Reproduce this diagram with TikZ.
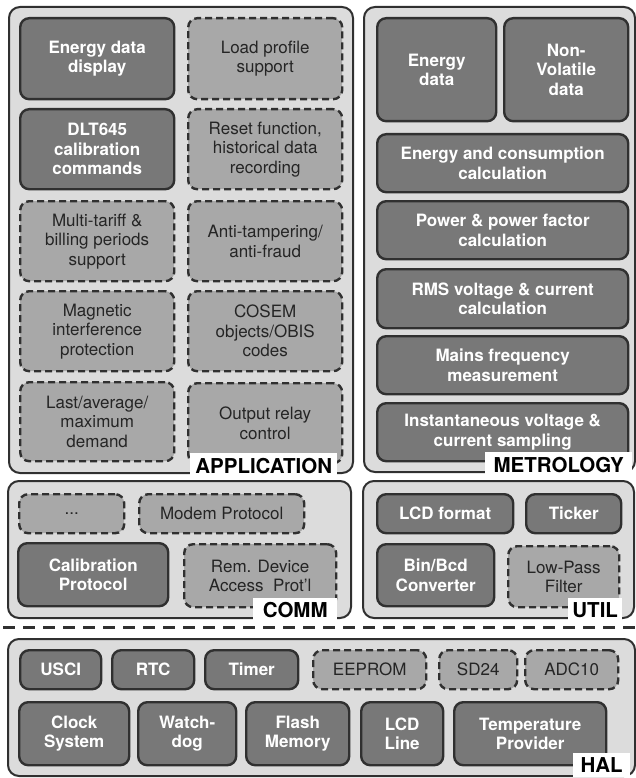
\documentclass[tikz,border=0pt]{standalone}
\usepackage{fontspec}
\setmainfont{TeX Gyre Heros}
\usepackage{xcolor}
\usepackage{tikz}
\usetikzlibrary{positioning}

\definecolor{layerfill}{HTML}{DCDCDC}
\definecolor{boxdark}{HTML}{787878}
\definecolor{boxlight}{HTML}{A8A8A8}
\definecolor{edge}{HTML}{303030}
\definecolor{dashtext}{HTML}{252525}

\begin{document}
\begin{tikzpicture}[
            x=1pt, y=-1pt,
            layer/.style={rectangle, rounded corners=11pt, draw=edge, line width=2pt, fill=layerfill, anchor=north west, inner sep=0pt},
            solidbox/.style={rectangle, rounded corners=9pt, draw=edge, line width=2.4pt, fill=boxdark, text=white, align=center, anchor=north west, inner sep=2pt, font=\fontsize{17}{19.5}\selectfont\bfseries},
            dashbox/.style={solidbox, fill=boxlight, text=dashtext, dash pattern=on 7pt off 4pt, font=\fontsize{17}{19.5}\selectfont},
            boxsize/.style 2 args={minimum width=#1pt, minimum height=#2pt},
            layername/.style={rectangle, fill=white, text=black, anchor=north west, inner sep=0pt, font=\fontsize{20.5}{22}\selectfont\bfseries},
            separator/.style={draw=edge, line width=3pt, dash pattern=on 12pt off 8pt}
        ]
        \useasboundingbox (0,0) rectangle (635,778);

        % layers
        \node[layer, boxsize={344}{466}] (application) at (8,6) {};
        \node[layer, boxsize={271}{465}] (metrology) at (363,6) {};
        \node[layer, boxsize={343}{137}] (comm) at (7,480) {};
        \node[layer, boxsize={271}{137}] (util) at (362,480) {};
        \node[layer, boxsize={627}{137}] (hal) at (7,638) {};

        % application
        \node[solidbox, boxsize={154}{81}] (edd) at (19,17) {Energy data\\display};
        \node[dashbox, boxsize={154}{81}] (lps) at (187,17) {Load profile\\support};
        \node[solidbox, boxsize={154}{80}] (dlt) at (19,108) {DLT645\\calibration\\commands};
        \node[dashbox, boxsize={154}{80}] (rst) at (187,108) {Reset function,\\historical data\\recording};
        \node[dashbox, boxsize={154}{80}] (mtb) at (19,200) {Multi-tariff \&\\billing periods\\support};
        \node[dashbox, boxsize={154}{80}] (atf) at (187,200) {Anti-tampering/\\anti-fraud};
        \node[dashbox, boxsize={154}{80}] (mag) at (19,290) {Magnetic\\interference\\protection};
        \node[dashbox, boxsize={154}{80}] (cos) at (187,290) {COSEM\\objects/OBIS\\codes};
        \node[dashbox, boxsize={154}{79}] (lam) at (19,381) {Last/average/\\maximum\\demand};
        \node[dashbox, boxsize={154}{80}] (orc) at (187,382) {Output relay\\control};

        % metrology
        \node[solidbox, boxsize={119}{103}] (end) at (376,17) {Energy\\data};
        \node[solidbox, boxsize={124}{103}] (nvd) at (503,17) {Non-\\Volatile\\data};
        \node[solidbox, boxsize={251}{58}] (ecc) at (376,133) {Energy and consumption\\calculation};
        \node[solidbox, boxsize={251}{58}] (ppf) at (376,200) {Power \& power factor\\calculation};
        \node[solidbox, boxsize={251}{59}] (rms) at (376,268) {RMS voltage \& current\\calculation};
        \node[solidbox, boxsize={251}{58}] (mfm) at (376,335) {Mains frequency\\measurement};
        \node[solidbox, boxsize={251}{58}] (ivs) at (376,402) {Instantaneous voltage \&\\current sampling};

        % comm
        \node[dashbox, boxsize={105}{39}] (dots) at (18,493) {...};
        \node[dashbox, boxsize={165}{39}] (mdm) at (138,493) {Modem Protocol};
        \node[solidbox, boxsize={150}{63}] (cal) at (17,542) {Calibration\\Protocol};
        \node[dashbox, boxsize={152}{63}] (rda) at (183,543) {Rem. Device\\Access\ \ Prot'l};

        % util
        \node[solidbox, boxsize={136}{39}] (lcf) at (376,493) {LCD format};
        \node[solidbox, boxsize={95}{39}] (tck) at (525,493) {Ticker};
        \node[solidbox, boxsize={117}{62}] (bbc) at (376,543) {Bin/Bcd\\Converter};
        \node[dashbox, boxsize={111}{61}] (lpf) at (507,545) {Low-Pass\\Filter};

        % hal
        \node[solidbox, boxsize={81}{39}] (usci) at (19,649) {USCI};
        \node[solidbox, boxsize={82}{39}] (rtc) at (111,649) {RTC};
        \node[solidbox, boxsize={93}{39}] (tmr) at (204,649) {Timer};
        \node[dashbox, boxsize={113}{39}] (eep) at (312,649) {EEPROM};
        \node[dashbox, boxsize={78}{39}] (sdad) at (438,649) {SD24};
        \node[dashbox, boxsize={93}{39}] (adc) at (524,649) {ADC10};
        \node[solidbox, boxsize={110}{63}] (clk) at (18,701) {Clock\\System};
        \node[solidbox, boxsize={98}{63}] (wdg) at (137,701) {Watch-\\dog};
        \node[solidbox, boxsize={103}{63}] (fls) at (245,701) {Flash\\Memory};
        \node[solidbox, boxsize={82}{63}] (lcdl) at (360,701) {LCD\\Line};
        \node[solidbox, boxsize={152}{63}] (tmp) at (453,701) {Temperature\\Provider};

        % layer names
        \node[layername, boxsize={147}{25}] (applabel) at (190,453) {APPLICATION};
        \node[layername, boxsize={147}{25}] (metlabel) at (485,452) {METROLOGY};
        \node[layername, boxsize={84}{23}] (commlabel) at (253,598) {COMM};
        \node[layername, boxsize={54}{23}] (utillabel) at (568,598) {UTIL};
        \node[layername, boxsize={57}{24}] (hallabel) at (573,753) {HAL};

        % hal boundary
        \coordinate (sepwest) at (3,627);
        \coordinate (sepeast) at (635,627);
        \draw[separator] (sepwest) -- (sepeast);

    \end{tikzpicture}
\end{document}
